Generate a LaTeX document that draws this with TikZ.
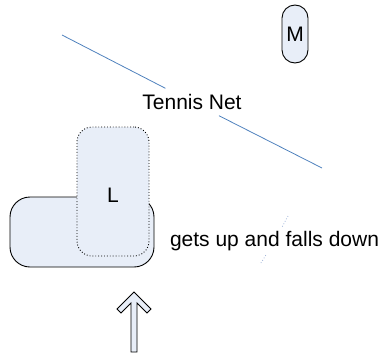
\documentclass[tikz,border=0pt]{standalone}
\usepackage{fontspec}
\setmainfont{Liberation Sans}
\definecolor{boxfill}{HTML}{E8EEF8}
\definecolor{netblue}{HTML}{4F81BD}
\definecolor{dotblue}{HTML}{9AB0D6}
\begin{document}
\begin{tikzpicture}[x=1pt,y=-1pt,
  lbl/.style={font=\fontsize{21}{25}\selectfont, inner sep=0pt},
  softbox/.style={draw=black, line width=0.9pt, fill=boxfill},
  gapbox/.style={lbl, fill=white, minimum height=27pt}]
\useasboundingbox (0,0) rectangle (382,356);
% big rounded box
\draw[softbox, rounded corners=20pt] (10,197) rectangle (154,267);
% L box (dotted)
\node[softbox, dotted, rounded corners=15pt, minimum width=72pt, minimum height=129pt, inner sep=0pt] (L) at (113,191.5) {};
\node[lbl] (Ltext) at (113,195) {L};
% M box
\node[softbox, rounded corners=13pt, minimum width=26pt, minimum height=58pt, inner sep=0pt] (M) at (295,34) {};
\node[lbl] (Mtext) at (295,34) {M};
% tennis net
\coordinate (netA) at (62,35);
\coordinate (netB) at (322,168);
\node[gapbox, minimum width=104pt] (net) at (192,102) {Tennis Net};
\draw[netblue, line width=0.8pt] (netA) -- (net);
\draw[netblue, line width=0.8pt] (net) -- (netB);
% dotted faint line behind text
\coordinate (dA) at (288,216);
\coordinate (dB) at (261,263);
\node[gapbox, minimum height=28pt] (gets) at (274.5,241) {gets up and falls down};
\draw[dotblue, dotted, line width=0.8pt] (dA) -- (gets);
\draw[dotblue, dotted, line width=0.8pt] (gets) -- (dB);
% up arrow
\draw[softbox, line join=miter] (134,292) -- (117,309) -- (121,313) -- (131,303) -- (131,352) -- (137,352) -- (137,303) -- (147,313) -- (151,309) -- cycle;
\end{tikzpicture}
\end{document}
